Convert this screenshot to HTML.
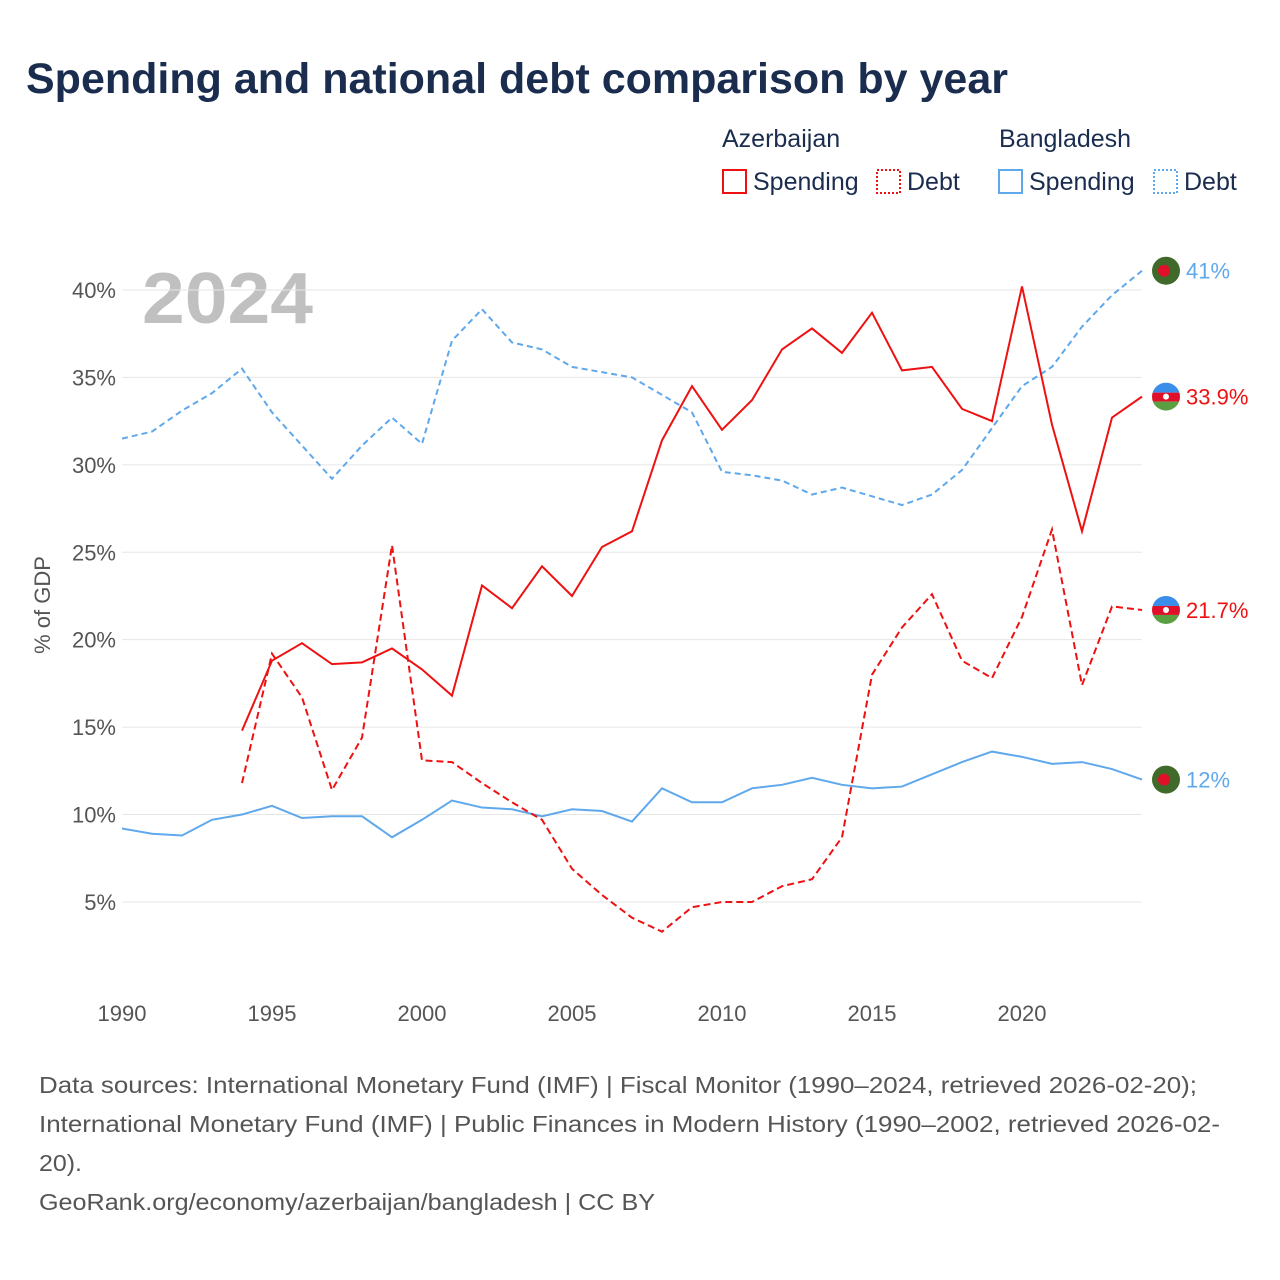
<!DOCTYPE html>
<html><head><meta charset="utf-8"><style>
body{margin:0;background:#fff;font-family:"Liberation Sans",sans-serif;}
#wrap{position:relative;width:1280px;height:1280px;overflow:hidden;}
</style></head><body>
<div id="wrap">
<svg id="chart" width="1280" height="1280">
<text x="26" y="93" font-size="43" font-weight="bold" fill="#1b2d4f">Spending and national debt comparison by year</text>
<g font-size="25" fill="#1b2d4f">
<text x="722" y="147">Azerbaijan</text>
<text x="999" y="147">Bangladesh</text>
<g><rect x="723" y="170" width="23" height="23" fill="none" stroke="#ee1111" stroke-width="2"/><text x="753" y="190">Spending</text></g>
<g><rect x="877" y="170" width="23" height="23" fill="none" stroke="#ee1111" stroke-width="2" stroke-dasharray="2,2"/><text x="907" y="190">Debt</text></g>
<g><rect x="999" y="170" width="23" height="23" fill="none" stroke="#5fa8ec" stroke-width="2"/><text x="1029" y="190">Spending</text></g>
<g><rect x="1154" y="170" width="23" height="23" fill="none" stroke="#5fa8ec" stroke-width="2" stroke-dasharray="2,2"/><text x="1184" y="190">Debt</text></g>
</g>
<text x="142" y="323" font-size="72" font-weight="bold" fill="#c0c0c0" textLength="171" lengthAdjust="spacingAndGlyphs">2024</text>
<text transform="translate(50,605) rotate(-90)" text-anchor="middle" font-size="22" fill="#555">% of GDP</text>
<g id="grid"></g><g id="series"></g><g id="labels"></g>
<g font-size="23" fill="#555">
<text x="39" y="1093" textLength="1158" lengthAdjust="spacingAndGlyphs">Data sources: International Monetary Fund (IMF) | Fiscal Monitor (1990–2024, retrieved 2026-02-20);</text>
<text x="39" y="1132" textLength="1181" lengthAdjust="spacingAndGlyphs">International Monetary Fund (IMF) | Public Finances in Modern History (1990–2002, retrieved 2026-02-</text>
<text x="39" y="1171" textLength="43" lengthAdjust="spacingAndGlyphs">20).</text>
<text x="39" y="1210" textLength="616" lengthAdjust="spacingAndGlyphs">GeoRank.org/economy/azerbaijan/bangladesh | CC BY</text>
</g>
</svg></div>
<script>
const yearsAll=[1990,1991,1992,1993,1994,1995,1996,1997,1998,1999,2000,2001,2002,2003,2004,2005,2006,2007,2008,2009,2010,2011,2012,2013,2014,2015,2016,2017,2018,2019,2020,2021,2022,2023,2024];
const yearsAze=yearsAll.slice(4);
const bgdDebt=[31.5,31.9,33.1,34.1,35.5,33.0,31.1,29.2,31.1,32.7,31.2,37.1,38.9,37.0,36.6,35.6,35.3,35.0,34.0,33.0,29.6,29.4,29.1,28.3,28.7,28.2,27.7,28.3,29.7,32.1,34.5,35.6,37.9,39.7,41.1];
const bgdSpend=[9.2,8.9,8.8,9.7,10.0,10.5,9.8,9.9,9.9,8.7,9.7,10.8,10.4,10.3,9.9,10.3,10.2,9.6,11.5,10.7,10.7,11.5,11.7,12.1,11.7,11.5,11.6,12.3,13.0,13.6,13.3,12.9,13.0,12.6,12.0];
const azeSpend=[14.8,18.8,19.8,18.6,18.7,19.5,18.3,16.8,23.1,21.8,24.2,22.5,25.3,26.2,31.4,34.5,32.0,33.7,36.6,37.8,36.4,38.7,35.4,35.6,33.2,32.5,40.2,32.3,26.2,32.7,33.9];
const azeDebt=[11.8,19.2,16.7,11.4,14.4,25.4,13.1,13.0,11.8,10.7,9.7,6.9,5.4,4.1,3.3,4.7,5.0,5.0,5.9,6.3,8.7,18.0,20.7,22.6,18.8,17.8,21.3,26.3,17.4,21.9,21.7];
const yTicks=[5,10,15,20,25,30,35,40];
const xTicks=[1990,1995,2000,2005,2010,2015,2020];
const endLabels=["41%","33.9%","21.7%","12%"];
const NS="http://www.w3.org/2000/svg";
const X=y=>122+(y-1990)*30;
const Y=v=>989.4-17.486*v;
function mk(t,a,p){const e=document.createElementNS(NS,t);for(const k in a)e.setAttribute(k,a[k]);p.appendChild(e);return e;}
const grid=document.getElementById('grid');
yTicks.forEach(v=>{
 const l=mk('line',{x1:122,x2:1142,y1:Y(v),y2:Y(v),stroke:'#e6e6e6','stroke-width':1},grid);
 
 
 const t=mk('text',{x:116,y:Y(v)+8,'text-anchor':'end','font-size':22,fill:'#555'},grid);
 t.textContent=v+'%';
 
 
});
xTicks.forEach(y=>{
 const t=mk('text',{x:X(y),y:1021,'text-anchor':'middle','font-size':22,fill:'#555'},grid);
 t.textContent=y;
 
 
});
const ser=document.getElementById('series');
function line(xs,vs,col,dash,name){
 const p=mk('path',{d:vs.map((v,i)=>(i?'L':'M')+X(xs[i])+','+Y(v)).join(''),fill:'none',stroke:col,'stroke-width':2,'stroke-dasharray':dash||'none'},ser);
 
 
}
line(yearsAll,bgdDebt,'#5fa8ec','6,4','line-bangladesh-debt');
line(yearsAll,bgdSpend,'#5fa8ec','','line-bangladesh-spending');
line(yearsAze,azeDebt,'#ee1111','7,4','line-azerbaijan-debt');
line(yearsAze,azeSpend,'#ee1111','','line-azerbaijan-spending');
const lab=document.getElementById('labels');
function flagB(v,txt){
 const cy=Y(v);
 const g=mk('g',{},lab);
 
 
 mk('circle',{cx:1166,cy:cy,r:14,fill:'#3f6a2a'},g);
 mk('circle',{cx:1164,cy:cy,r:6,fill:'#e0102a'},g);
 const t=mk('text',{x:1186,y:cy+8,'font-size':22,fill:'#5fa8ec'},g);t.textContent=txt;
}
function flagA(v,txt,i){
 const cy=Y(v);
 const g=mk('g',{},lab);
 
 
 const c=mk('clipPath',{id:'cp'+i},g);mk('circle',{cx:1166,cy:cy,r:14},c);
 const f=mk('g',{'clip-path':'url(#cp'+i+')'},g);
 mk('rect',{x:1150,y:cy-14,width:32,height:10,fill:'#3a8de8'},f);
 mk('rect',{x:1150,y:cy-4,width:32,height:9,fill:'#e0102a'},f);
 mk('rect',{x:1150,y:cy+5,width:32,height:10,fill:'#5aa040'},f);
 mk('circle',{cx:1166,cy:cy,r:3,fill:'#fff'},g);
 const t=mk('text',{x:1186,y:cy+8,'font-size':22,fill:'#ee1111'},g);t.textContent=txt;
}
flagB(bgdDebt[bgdDebt.length-1],endLabels[0]);
flagA(azeSpend[azeSpend.length-1],endLabels[1],1);
flagA(azeDebt[azeDebt.length-1],endLabels[2],2);
flagB(bgdSpend[bgdSpend.length-1],endLabels[3]);
</script>
</body></html>
